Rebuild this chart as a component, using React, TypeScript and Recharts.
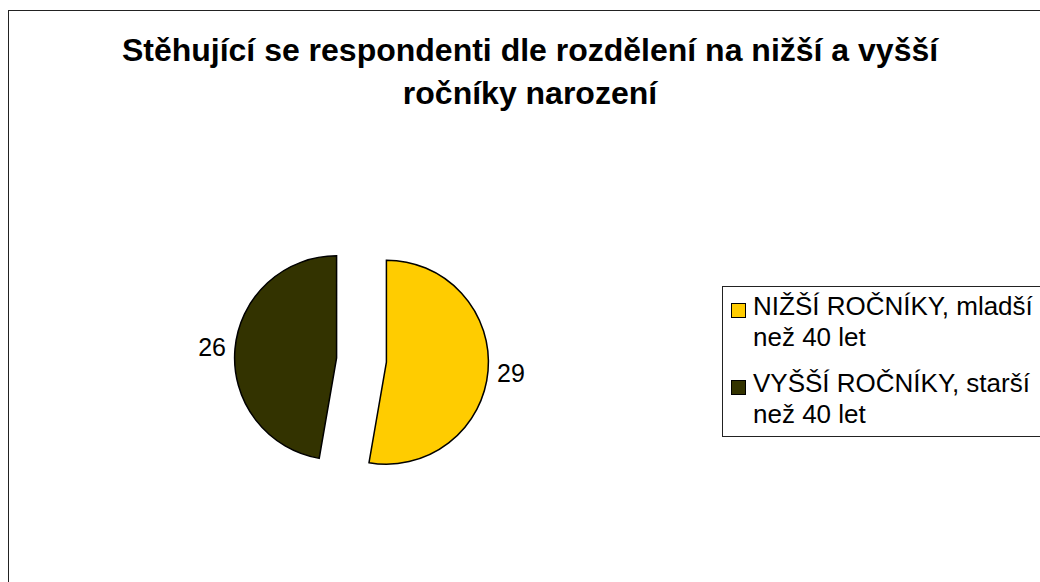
import { PieChart, Pie, Cell, Legend } from 'recharts';

const categories = ['NIŽŠÍ ROČNÍKY, mladší než 40 let', 'VYŠŠÍ ROČNÍKY, starší než 40 let'];
const values = [29, 26];
const colors = ['#FFCC00', '#333300'];
const titleLines = ['Stěhující se respondenti dle rozdělení na nižší a vyšší', 'ročníky narození'];

const FONT = '"Liberation Sans", Arial, Helvetica, sans-serif';
const RAD = Math.PI / 180;

const data = categories.map((name, i) => ({ name, value: values[i] }));
const total = values.reduce((a, b) => a + b, 0);

// pie center before exploding, and how far each slice is pulled out
const BASE_CX = 361.5;
const BASE_CY = 360;
const EXPLODE = 25;
const RADIUS = 102;

const midAngles = values.map((v, i) => {
  const before = values.slice(0, i).reduce((a, b) => a + b, 0);
  return 90 - ((before + v / 2) / total) * 360;
});

function renderLabel(slice: number) {
  return (props: any) => {
    if (props.index !== slice) return null;
    const r = props.outerRadius + 23;
    const x = props.cx + r * Math.cos(-props.midAngle * RAD);
    const y = props.cy + r * Math.sin(-props.midAngle * RAD);
    return (
      <text
        x={x}
        y={y + 9}
        textAnchor="middle"
        fill="#000"
        fontSize={25}
        fontFamily={FONT}
      >
        {props.value}
      </text>
    );
  };
}

function LegendBox() {
  return (
    <div
      style={{
        border: '1px solid #222',
        borderRight: 'none',
        padding: '4px 0 6px 8px',
        width: 330,
        fontFamily: FONT,
        fontSize: 26,
        lineHeight: '31px',
        color: '#000',
        boxSizing: 'border-box',
      }}
    >
      {categories.map((c, i) => (
        <div
          key={c}
          style={{ position: 'relative', paddingLeft: 22, marginTop: i === 0 ? 0 : 15, width: 300 }}
        >
          <span
            style={{
              position: 'absolute',
              left: 0,
              top: 12,
              width: 13,
              height: 13,
              background: colors[i],
              border: '1px solid #000',
            }}
          />
          {c}
        </div>
      ))}
    </div>
  );
}

export default function App() {
  return (
    <div
      style={{
        position: 'absolute',
        left: 0,
        top: 0,
        width: 1040,
        height: 582,
        overflow: 'hidden',
        background: '#fff',
      }}
    >
      <div
        style={{
          position: 'absolute',
          left: 8,
          top: 10,
          width: 1100,
          height: 700,
          borderTop: '1px solid #222',
          borderLeft: '1px solid #222',
        }}
      />
      <div
        style={{
          position: 'absolute',
          left: 8,
          top: 29,
          width: 1044,
          textAlign: 'center',
          fontFamily: FONT,
          fontWeight: 'bold',
          fontSize: 32,
          lineHeight: '43px',
          color: '#000',
        }}
      >
        {titleLines.map((t) => (
          <div key={t}>{t}</div>
        ))}
      </div>
      <PieChart
        width={1040}
        height={582}
        margin={{ top: 0, right: 0, bottom: 0, left: 0 }}
        style={{ position: 'absolute', left: 0, top: 0 }}
      >
        {values.map((_, s) => (
          <Pie
            key={s}
            data={data}
            dataKey="value"
            nameKey="name"
            cx={BASE_CX + EXPLODE * Math.cos(midAngles[s] * RAD)}
            cy={BASE_CY - EXPLODE * Math.sin(midAngles[s] * RAD)}
            outerRadius={RADIUS}
            startAngle={90}
            endAngle={-270}
            isAnimationActive={false}
            label={renderLabel(s)}
            labelLine={false}
          >
            {data.map((d, i) => (
              <Cell
                key={d.name}
                fill={i === s ? colors[i] : 'none'}
                stroke={i === s ? '#000' : 'none'}
                strokeWidth={1.5}
              />
            ))}
          </Pie>
        ))}
        <Legend
          content={() => <LegendBox />}
          wrapperStyle={{ position: 'absolute', left: 722, top: 286, width: 330 }}
        />
      </PieChart>
    </div>
  );
}
